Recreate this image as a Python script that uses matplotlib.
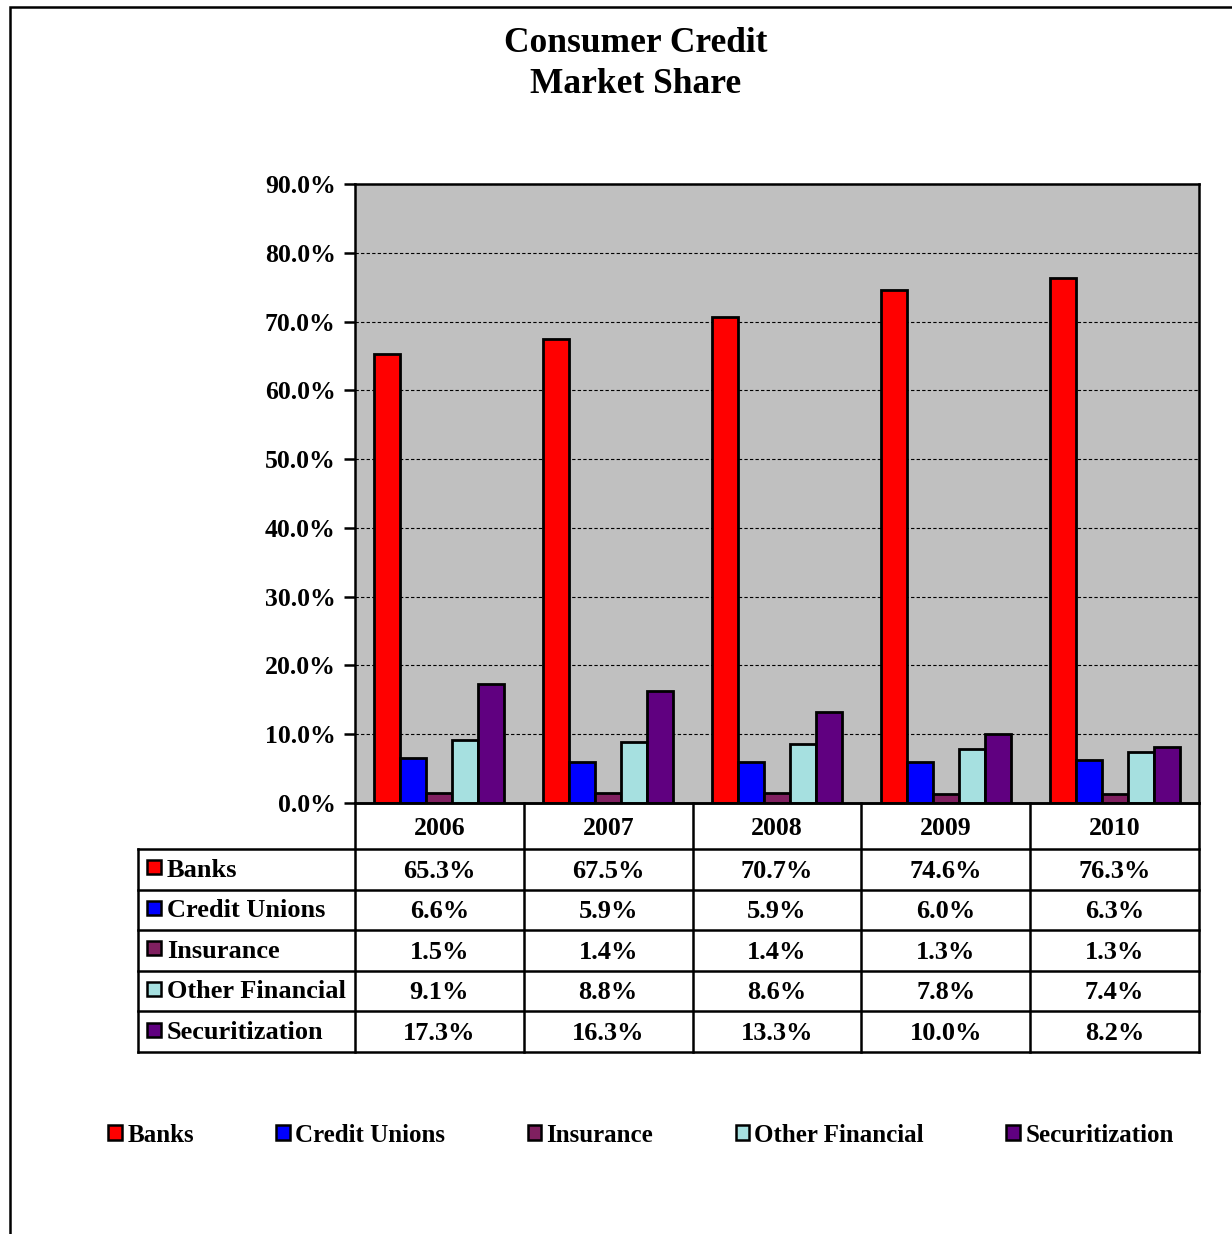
import numpy as np
import matplotlib
matplotlib.use("Agg")
import matplotlib.pyplot as plt
from matplotlib.patches import Patch, Rectangle

plt.rcParams['font.family'] = ['Liberation Serif', 'DejaVu Serif']
plt.rcParams['font.weight'] = 'bold'

# data
years = ['2006', '2007', '2008', '2009', '2010']
series = ['Banks', 'Credit Unions', 'Insurance', 'Other Financial', 'Securitization']
banks = [65.3, 67.5, 70.7, 74.6, 76.3]
credit_unions = [6.6, 5.9, 5.9, 6.0, 6.3]
insurance = [1.5, 1.4, 1.4, 1.3, 1.3]
other_financial = [9.1, 8.8, 8.6, 7.8, 7.4]
securitization = [17.3, 16.3, 13.3, 10.0, 8.2]
values = [banks, credit_unions, insurance, other_financial, securitization]
colors = ['#FF0000', '#0000FF', '#802060', '#A6E0E0', '#600080']
yticks = [0, 10, 20, 30, 40, 50, 60, 70, 80, 90]

W, H = 1232, 1234
fig = plt.figure(figsize=(W / 100, H / 100), dpi=100)

def fx(px):
    return px / W

def fy(py):
    return 1 - py / H

# outer frame
fig.patches.append(Rectangle((fx(10), -0.05), 1.2, fy(7) + 0.05, transform=fig.transFigure,
                             fill=False, lw=1.8, ec='black', zorder=0))

fig.text(fx(636), fy(64), 'Consumer Credit\nMarket Share', ha='center', va='center',
         fontsize=25.5, fontweight='bold', linespacing=1.3)

# main chart
ax = fig.add_axes([fx(355), fy(803), fx(1199) - fx(355), fy(184) - fy(803)])
ax.set_facecolor('#C0C0C0')
x = np.arange(len(years))
w = 0.154
for k, (vals, c) in enumerate(zip(values, colors)):
    ax.bar(x + (k - 2) * w, vals, w, color=c, edgecolor='black', linewidth=2, zorder=3)
ax.set_xlim(-0.5, len(years) - 0.5)
ax.set_ylim(0, 90)
ax.set_yticks(yticks)
ax.set_yticklabels(['%.1f%%' % t for t in yticks], fontsize=18.5, fontweight='bold')
ax.set_xticks([])
ax.yaxis.grid(True, color='black', linestyle=(0, (3, 2)), linewidth=0.8, zorder=1)
ax.tick_params(axis='y', direction='out', length=8, width=1.8, pad=6)
for s in ax.spines.values():
    s.set_linewidth(1.8)

# data table under the chart
unit = 844 / 5.0
label_w = (355 - 138) / unit
tax = fig.add_axes([fx(138), fy(1052), fx(1199) - fx(138), fy(803) - fy(1052)])
tax.set_xlim(-0.5 - label_w, len(years) - 0.5)
row_edges = [0, 46, 86.5, 127, 167.5, 208, 249]
tax.set_ylim(row_edges[-1], 0)
tax.axis('off')
left = -0.5 - label_w
lw = 1.8
# horizontal lines
tax.plot([-0.5, len(years) - 0.5], [0, 0], color='black', lw=lw, clip_on=False)
for e in row_edges[1:]:
    tax.plot([left, len(years) - 0.5], [e, e], color='black', lw=lw, clip_on=False,
             solid_capstyle='projecting')
# vertical lines
tax.plot([left, left], [row_edges[1], row_edges[-1]], color='black', lw=lw, clip_on=False,
         solid_capstyle='projecting')
for i in range(len(years) + 1):
    tax.plot([i - 0.5, i - 0.5], [0, row_edges[-1]], color='black', lw=lw, clip_on=False,
             solid_capstyle='projecting')
for i, yr in enumerate(years):
    tax.text(i, (row_edges[0] + row_edges[1]) / 2 + 2, yr, ha='center', va='center',
             fontsize=18.5, fontweight='bold')
for r, (name, vals, c) in enumerate(zip(series, values, colors)):
    yc = (row_edges[r + 1] + row_edges[r + 2]) / 2
    tax.plot(left + 16 / unit, yc - 2, marker='s', markersize=9.5, color=c, mec='black',
             mew=1.8, clip_on=False)
    tax.text(left + 29 / unit, yc + 1, name, ha='left', va='center', fontsize=19, fontweight='bold')
    for i, v in enumerate(vals):
        tax.text(i, yc + 2, '%.1f%%' % v, ha='center', va='center', fontsize=19,
                 fontweight='bold')

# bottom legend
handles = [Patch(facecolor=c, edgecolor='black', linewidth=1.8) for c in colors]
fig.legend(handles, series, loc='center', bbox_to_anchor=(fx(641), fy(1135)), ncol=5,
           frameon=False, prop={'size': 18, 'weight': 'bold'}, handlelength=0.55,
           handleheight=0.55, handletextpad=0.2, columnspacing=3.3)

fig.savefig('out.png', dpi=100)
